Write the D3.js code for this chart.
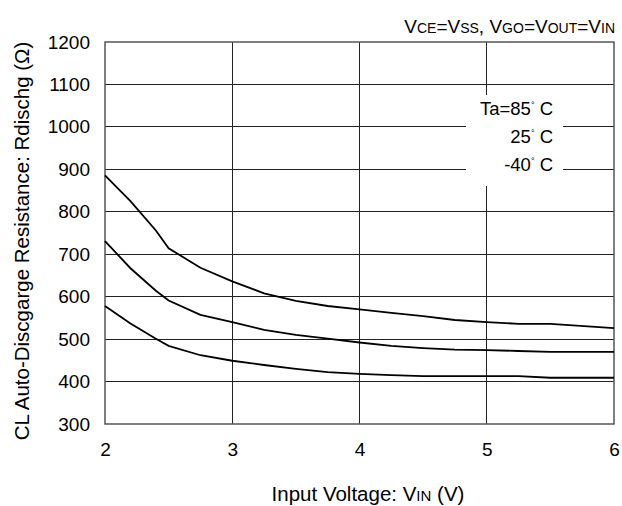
<!DOCTYPE html>
<html><head><meta charset="utf-8">
<script src="https://cdn.jsdelivr.net/npm/d3@7/dist/d3.min.js"></script>
<style>body{margin:0;background:#fff;} text{font-family:"Liberation Sans",Arial,sans-serif;fill:#000;}</style>
</head><body>
<svg id="c" width="622" height="506"></svg>
<script>
const voltages = [2, 2.2, 2.4, 2.5, 2.75, 3, 3.25, 3.5, 3.75, 4, 4.25, 4.5, 4.75, 5, 5.25, 5.5, 6];
const r85  = [886, 825, 756, 714, 668, 636, 608, 590, 578, 570, 562, 554, 545, 540, 536, 536, 526];
const r25  = [731, 667, 614, 591, 557, 540, 522, 510, 501, 492, 484, 479, 475, 474, 472, 470, 470];
const rm40 = [578, 537, 501, 484, 462, 449, 439, 430, 422, 418, 415, 413, 413, 413, 413, 409, 409];
const xTicks = [2, 3, 4, 5, 6];
const yTicks = [300, 400, 500, 600, 700, 800, 900, 1000, 1100, 1200];
const legendLabels = [["Ta=85", "C"], ["25", "C"], ["-40", "C"]];

const svg = d3.select("#c");
const L = 105, R = 614, T = 42, B = 424;
const x = d3.scaleLinear().domain([2, 6]).range([L, R]);
const y = d3.scaleLinear().domain([300, 1200]).range([B, T]);

// grid
const g = svg.append("g");
g.selectAll(".vg").data(xTicks.slice(1, -1)).join("line")
  .attr("x1", d => x(d)).attr("x2", d => x(d)).attr("y1", T).attr("y2", B)
  .attr("stroke", "#222").attr("stroke-width", 1).attr("shape-rendering", "crispEdges");
g.selectAll(".hg").data(yTicks.slice(1, -1)).join("line")
  .attr("x1", L).attr("x2", R).attr("y1", d => y(d)).attr("y2", d => y(d))
  .attr("stroke", "#222").attr("stroke-width", 1).attr("shape-rendering", "crispEdges");

// axes
const xAxis = svg.append("g").attr("transform", `translate(0,${B})`)
  .call(d3.axisBottom(x).tickValues(xTicks).tickSize(0).tickPadding(19).tickFormat(d3.format("d")));
const yAxis = svg.append("g").attr("transform", `translate(${L},0)`)
  .call(d3.axisLeft(y).tickValues(yTicks).tickSize(0).tickPadding(15).tickFormat(d3.format("d")));
[xAxis, yAxis].forEach(a => { a.select(".domain").remove(); a.selectAll("text").attr("font-size", 19).attr("font-family", "Liberation Sans, Arial, sans-serif"); });

// frame
svg.append("rect").attr("x", L).attr("y", T).attr("width", R - L).attr("height", B - T)
  .attr("fill", "none").attr("stroke", "#555").attr("stroke-width", 1.5);

// curves
const line = d3.line().x((d, i) => x(voltages[i])).y(d => y(d));
[r85, r25, rm40].forEach(s => {
  svg.append("path").attr("d", line(s)).attr("fill", "none").attr("stroke", "#000").attr("stroke-width", 1.8);
});

// legend box (white, covering grid)
svg.append("rect").attr("x", 466).attr("y", 95).attr("width", 97).attr("height", 91).attr("fill", "#fff");
const lg = svg.append("g");
legendLabels.forEach(([a, b], i) => {
  const t = lg.append("text").attr("x", 553).attr("y", 115 + i * 28).attr("text-anchor", "end").attr("font-size", 18.5);
  t.append("tspan").text(a);
  t.append("tspan").attr("font-size", 9).attr("dy", -7).text("°");
  t.append("tspan").attr("dy", 7).text(" " + b);
});

// top label
const topLabel = svg.append("text").attr("x", 615).attr("y", 33).attr("text-anchor", "end").attr("font-size", 19);
[["V",19],["CE",14],["=V",19],["SS",14],[", V",19],["GO",14],["=V",19],["OUT",14],["=V",19],["IN",14]]
  .forEach(([t, s]) => topLabel.append("tspan").attr("font-size", s).text(t));

// x title
const xt = svg.append("text").attr("x", 368).attr("y", 501).attr("text-anchor", "middle").attr("font-size", 20.5);
[["Input Voltage: V",20.5],["IN",15],[" (V)",20.5]].forEach(([t, s]) => xt.append("tspan").attr("font-size", s).text(t));

// y title
svg.append("text").attr("transform", `translate(29,241) rotate(-90)`)
  .attr("text-anchor", "middle").attr("font-size", 20.5).text("CL Auto-Discgarge Resistance: Rdischg (Ω)");
</script>
</body></html>
